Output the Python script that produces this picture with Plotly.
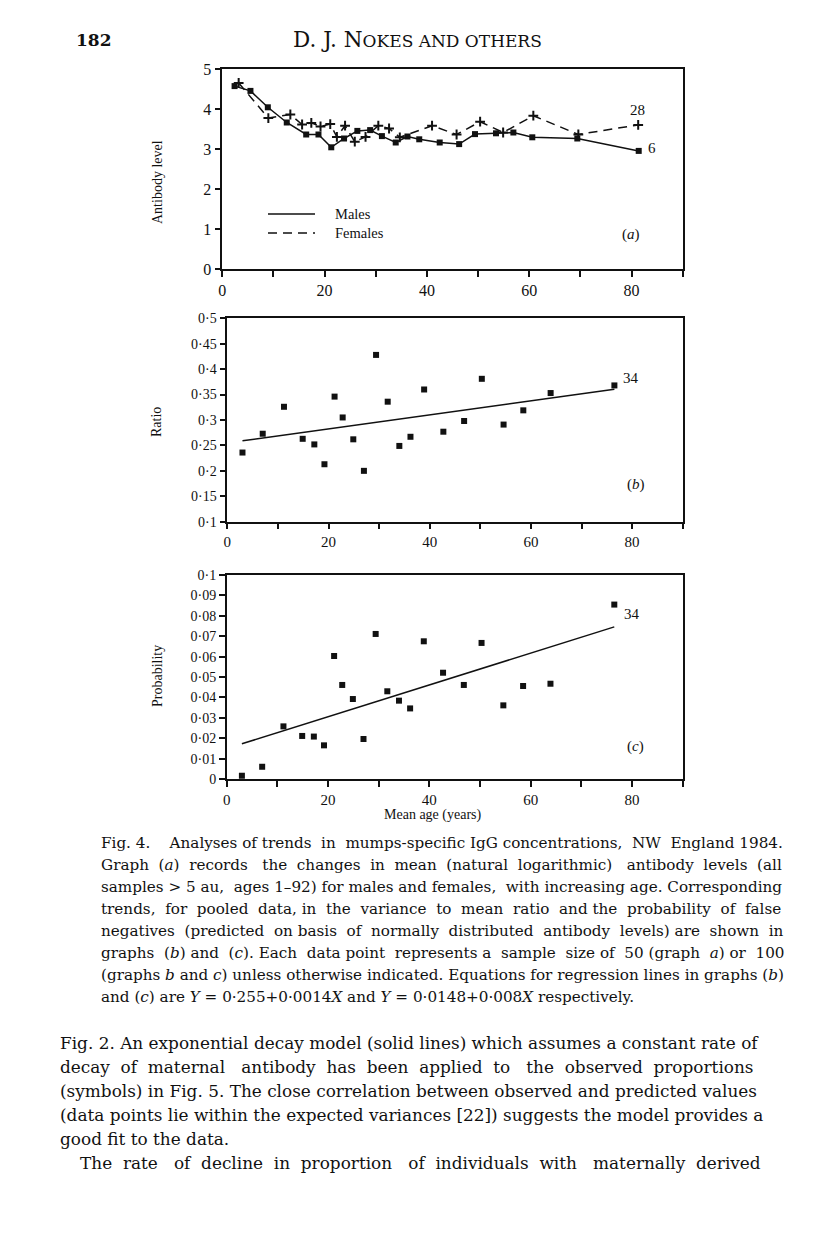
import plotly.graph_objects as go

# page is 816x1251; the html body adds an 8px margin, so the figure is shifted by it
W, H = 816, 1251
OFF = 8
FW, FH = W - OFF, 1235

# ---- data ----
# (a) mean log antibody level by sex
male_age = [2.4, 5.5, 8.9, 12.6, 16.4, 18.8, 21.3, 23.8, 26.4, 28.9, 31.2, 33.9,
            36.2, 38.5, 42.5, 46.3, 49.4, 53.5, 56.9, 60.6, 69.4, 81.4]
male_level = [4.58, 4.46, 4.05, 3.67, 3.37, 3.37, 3.05, 3.27, 3.46, 3.48, 3.33, 3.17,
              3.32, 3.25, 3.17, 3.13, 3.38, 3.40, 3.42, 3.30, 3.27, 2.96]
female_age = [3.2, 9.0, 13.3, 15.6, 17.4, 19.2, 21.1, 22.4, 24.0, 25.9, 28.0, 30.5,
              32.6, 34.7, 41.0, 45.8, 50.4, 54.9, 60.8, 69.6, 81.3]
female_level = [4.66, 3.78, 3.87, 3.62, 3.66, 3.57, 3.63, 3.31, 3.59, 3.19, 3.31, 3.59,
                3.52, 3.30, 3.59, 3.37, 3.69, 3.42, 3.84, 3.37, 3.61]

# (b) and (c) pooled data
pooled_age = [3.0, 7.0, 11.2, 14.9, 17.2, 19.2, 21.2, 22.8, 24.9, 27.0, 29.4, 31.7,
              34.0, 36.2, 38.9, 42.7, 46.8, 50.3, 54.6, 58.5, 63.9, 76.5]
ratio = [0.236, 0.273, 0.326, 0.263, 0.252, 0.213, 0.346, 0.305, 0.262, 0.200, 0.428, 0.336,
         0.249, 0.267, 0.360, 0.277, 0.298, 0.381, 0.291, 0.319, 0.353, 0.368]
probability = [0.0016, 0.0060, 0.0258, 0.0211, 0.0208, 0.0165, 0.0603, 0.0461, 0.0392, 0.0196,
               0.0711, 0.0430, 0.0384, 0.0346, 0.0675, 0.0521, 0.0461, 0.0667, 0.0361, 0.0456,
               0.0467, 0.0855]

# regression coefficients (intercept, slope) as drawn
ratio_fit = (0.255, 0.00138)
prob_fit = (0.0149, 0.00078)

# ticks
x_tick_vals = [0, 10, 20, 30, 40, 50, 60, 70, 80, 90]
x_tick_text = ['0', '', '20', '', '40', '', '60', '', '80', '']
a_tick_vals = [0, 1, 2, 3, 4, 5]
a_tick_text = ['0', '1', '2', '3', '4', '5']
b_tick_vals = [0.1, 0.15, 0.2, 0.25, 0.3, 0.35, 0.4, 0.45, 0.5]
b_tick_text = ['0·1', '0·15', '0·2', '0·25', '0·3', '0·35', '0·4', '0·45', '0·5']
c_tick_vals = [0, 0.01, 0.02, 0.03, 0.04, 0.05, 0.06, 0.07, 0.08, 0.09, 0.1]
c_tick_text = ['0', '0·01', '0·02', '0·03', '0·04', '0·05', '0·06', '0·07', '0·08', '0·09', '0·1']

caption_lines = [
    "Fig. 4.  Analyses of trends in mumps-specific IgG concentrations, NW England 1984.",
    "Graph (<i>a</i>) records the changes in mean (natural logarithmic) antibody levels (all",
    "samples &gt; 5 au, ages 1–92) for males and females, with increasing age. Corresponding",
    "trends, for pooled data, in the variance to mean ratio and the probability of false",
    "negatives (predicted on basis of normally distributed antibody levels) are shown in",
    "graphs (<i>b</i>) and (<i>c</i>). Each data point represents a sample size of 50 (graph <i>a</i>) or 100",
    "(graphs <i>b</i> and <i>c</i>) unless otherwise indicated. Equations for regression lines in graphs (<i>b</i>)",
    "and (<i>c</i>) are <i>Y</i> = 0·255+0·0014<i>X</i> and <i>Y</i> = 0·0148+0·008<i>X</i> respectively.",
]
body_lines = [
    "Fig. 2. An exponential decay model (solid lines) which assumes a constant rate of",
    "decay of maternal antibody has been applied to the observed proportions",
    "(symbols) in Fig. 5. The close correlation between observed and predicted values",
    "(data points lie within the expected variances [22]) suggests the model provides a",
    "good fit to the data.",
    "The rate of decline in proportion of individuals with maternally derived",
]
# extra spaces used to fake the justified setting of the printed page
caption_extra = [6, 13, 2, 12, 9, 9, 0, 0]
body_extra = [0, 12, 0, 0, 0, 13]


def justify(line, extra):
    words = line.split(' ')
    gaps = len(words) - 1
    out = words[0]
    for i, w in enumerate(words[1:]):
        n = 1 + round((i + 1) * extra / gaps) - round(i * extra / gaps)
        out += ' ' * n + w
    return out


def px(x):
    return (x - OFF) / FW


def py(y):
    return 1 - (y - OFF) / FH


SERIF = 'Liberation Serif'
INK = '#111111'

fig = go.Figure()

# panel (a)
fig.add_trace(go.Scatter(x=male_age, y=male_level, mode='lines+markers',
                         line=dict(color=INK, width=1.5),
                         marker=dict(symbol='square', size=6, color=INK),
                         xaxis='x', yaxis='y', cliponaxis=False))
fig.add_trace(go.Scatter(x=female_age, y=female_level, mode='lines+markers',
                         line=dict(color=INK, width=1.5, dash='9px,6px'),
                         marker=dict(symbol='cross-thin', size=7,
                                     line=dict(color=INK, width=2)),
                         xaxis='x', yaxis='y', cliponaxis=False))

# panel (b)
fig.add_trace(go.Scatter(x=pooled_age, y=ratio, mode='markers',
                         marker=dict(symbol='square', size=6, color=INK),
                         xaxis='x2', yaxis='y2', cliponaxis=False))
ends = [pooled_age[0], pooled_age[-1]]
fig.add_trace(go.Scatter(x=ends, y=[ratio_fit[0] + ratio_fit[1] * a for a in ends],
                         mode='lines', line=dict(color=INK, width=1.5),
                         xaxis='x2', yaxis='y2'))

# panel (c)
fig.add_trace(go.Scatter(x=pooled_age, y=probability, mode='markers',
                         marker=dict(symbol='square', size=6, color=INK),
                         xaxis='x3', yaxis='y3', cliponaxis=False))
fig.add_trace(go.Scatter(x=ends, y=[prob_fit[0] + prob_fit[1] * a for a in ends],
                         mode='lines', line=dict(color=INK, width=1.5),
                         xaxis='x3', yaxis='y3'))


def axis(domain, rng, vals, text, size, anchor):
    return dict(domain=domain, range=rng, tickvals=vals, ticktext=text, anchor=anchor,
                showline=True, linecolor=INK, linewidth=1.5, mirror=True,
                ticks='outside', ticklen=6, tickwidth=1.5, tickcolor=INK,
                showgrid=False, zeroline=False, automargin=False,
                tickfont=dict(family=SERIF, size=size, color=INK))


fig.update_layout(
    width=FW, height=FH,
    margin=dict(l=0, r=0, t=0, b=0),
    paper_bgcolor='white', plot_bgcolor='white',
    showlegend=False,
    xaxis=axis([px(222.3), px(682.7)], [0, 90], x_tick_vals, x_tick_text, 16, 'y'),
    yaxis=axis([py(269.3), py(69.3)], [0, 5], a_tick_vals, a_tick_text, 16, 'x'),
    xaxis2=axis([px(227.3), px(682.7)], [0, 90], x_tick_vals, x_tick_text, 15, 'y2'),
    yaxis2=axis([py(521.7), py(318.3)], [0.1, 0.5], b_tick_vals, b_tick_text, 14, 'x2'),
    xaxis3=axis([px(226.7), px(682.7)], [0, 90], x_tick_vals, x_tick_text, 15, 'y3'),
    yaxis3=axis([py(779), py(575)], [0, 0.1], c_tick_vals, c_tick_text, 14, 'x3'),
)

ann = []


def label(x, y, text, size=15, family=SERIF, xanchor='center', angle=0):
    ann.append(dict(x=px(x), y=py(y), xref='paper', yref='paper', text=text,
                    showarrow=False, xanchor=xanchor, yanchor='middle', textangle=angle,
                    font=dict(family=family, size=size, color=INK)))


# axis titles
label(157, 182, 'Antibody level', 14, angle=-90)
label(157, 422, 'Ratio', 14, angle=-90)
label(157, 676, 'Probability', 14, angle=-90)
label(433, 815, 'Mean age (years)', 14)

# series notes and panel letters
label(637, 110, '28', 15)
label(652, 148, '6', 15)
label(631, 378, '34', 15)
label(632, 614, '34', 15)
label(631, 234, '(<i>a</i>)', 15)
label(636, 485, '(<i>b</i>)', 15)
label(635, 746, '(<i>c</i>)', 15)

# legend for panel (a)
label(333, 214, 'Males', 14.5, xanchor='left')
label(333, 233, 'Females', 14.5, xanchor='left')
fig.add_shape(type='line', xref='paper', yref='paper', x0=px(268), x1=px(315),
              y0=py(214), y1=py(214), line=dict(color=INK, width=1.5))
fig.add_shape(type='line', xref='paper', yref='paper', x0=px(268), x1=px(315),
              y0=py(233), y1=py(233), line=dict(color=INK, width=1.5, dash='9px,6px'))

# page header
label(74, 40, '<b>182</b>', 17, family='DejaVu Serif', xanchor='left')
label(417, 40, "D. J. N<span style='font-size:17px'>OKES AND OTHERS</span>", 21.5,
      family='DejaVu Serif')

# caption
for i, line in enumerate(caption_lines):
    label(99, 843 + 22 * i, justify(line, caption_extra[i]), 15.2,
          family='DejaVu Serif', xanchor='left')

# running text
for i, line in enumerate(body_lines):
    x0 = 78 if i == len(body_lines) - 1 else 58
    label(x0, 1043 + 24 * i, justify(line, body_extra[i]), 16.9,
          family='DejaVu Serif', xanchor='left')

fig.update_layout(annotations=ann)

fig.write_html("out.html")
